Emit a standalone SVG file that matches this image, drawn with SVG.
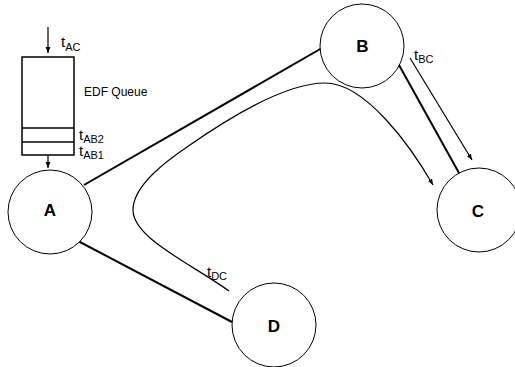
<svg xmlns="http://www.w3.org/2000/svg" width="515" height="367" viewBox="0 0 515 367">
<defs>
<style>
text{font-family:"Liberation Sans",Arial,sans-serif;fill:#000}
.node{fill:#fff;stroke:#000;stroke-width:1}
.lbl{font-size:17px;font-weight:bold;text-anchor:middle}
.edge{stroke:#000;stroke-width:2;fill:none}
.thin{stroke:#000;stroke-width:1.2;fill:none}
.t{font-size:15px}
.sub{font-size:11px}
</style>
<marker id="ah" viewBox="0 0 10 10" refX="10" refY="5" markerWidth="6" markerHeight="6" markerUnits="userSpaceOnUse" orient="auto">
<path d="M0,1 L10,5 L0,9 Z" fill="#000"/>
</marker>
</defs>
<g id="connectors">
<line class="edge" x1="84" y1="185" x2="322" y2="48"/>
<line class="edge" x1="78" y1="241" x2="232" y2="322"/>
<line class="edge" x1="399" y1="65" x2="459" y2="173"/>
<line class="thin" x1="410" y1="58" x2="472" y2="160" marker-end="url(#ah)"/>
<path class="thin" d="M229,291 C190,263 133,238 133,210 C133,185 168,160 187,147 C227,119 285,83 325,83 C365,83 410,145 433,185" marker-end="url(#ah)"/>
<line class="thin" x1="48" y1="27" x2="48" y2="53" marker-end="url(#ah)"/>
<line class="thin" x1="48" y1="155" x2="48" y2="168" marker-end="url(#ah)"/>
</g>
<g id="queue">
<rect x="22" y="57" width="52" height="98" fill="none" stroke="#000" stroke-width="1.5"/>
<line x1="22" y1="128" x2="74" y2="128" stroke="#000" stroke-width="1.5"/>
<line x1="22" y1="142" x2="74" y2="142" stroke="#000" stroke-width="1.5"/>
<text x="84" y="96" font-size="12">EDF Queue</text>
<text x="61" y="47" class="t">t<tspan class="sub" dy="3.5">AC</tspan></text>
<text x="79" y="140" class="t">t<tspan class="sub" dy="2.5">AB2</tspan></text>
<text x="79" y="156" class="t">t<tspan class="sub" dy="2.5">AB1</tspan></text>
</g>
<g id="A"><circle class="node" cx="50" cy="212" r="42"/><text class="lbl" x="50" y="216">A</text></g>
<g id="B"><circle class="node" cx="362" cy="46" r="42"/><text class="lbl" x="362.5" y="52">B</text></g>
<g id="C"><circle class="node" cx="479" cy="210" r="42"/><text class="lbl" x="478" y="217">C</text></g>
<g id="D"><circle class="node" cx="274" cy="325" r="42"/><text class="lbl" x="274" y="332">D</text></g>
<text x="414" y="60" class="t">t<tspan class="sub" dy="3">BC</tspan></text>
<text x="207" y="277" class="t">t<tspan class="sub" dy="3">DC</tspan></text>
</svg>
